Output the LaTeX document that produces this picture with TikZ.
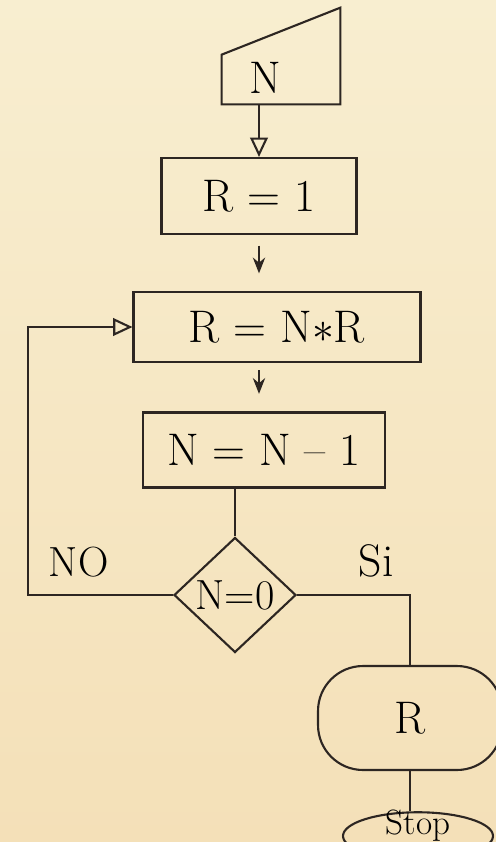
\documentclass[tikz,border=0pt]{standalone}
\usetikzlibrary{shapes.geometric,arrows.meta}

\definecolor{paper}{RGB}{248,238,208}
\definecolor{paperdark}{RGB}{244,224,184}
\definecolor{ink}{RGB}{45,38,34}

\tikzset{
  line/.style={draw=ink, line width=1.2pt},
  block/.style={line, rectangle, inner sep=0pt, font=\fontsize{26}{28}\selectfont},
  decision/.style={line, diamond, inner sep=0pt, font=\fontsize{24}{26}\selectfont},
  output/.style={line, rectangle, rounded corners=0.9cm, inner sep=0pt, font=\fontsize{26}{28}\selectfont},
  terminal/.style={line, ellipse, inner sep=0pt},
  flow/.style={line, -{Stealth[length=9pt,width=7pt]}},
  openflow/.style={line, -{Triangle[open,length=11pt,width=10pt]}},
}

\begin{document}
\begin{tikzpicture}[x=0.02cm, y=-0.02cm]
    % paper
    \useasboundingbox (0,0) rectangle (496,842);
    \shade[top color=paper, bottom color=paperdark] (0,0) rectangle (496,842);
    \clip (0,0) rectangle (496,842);

    % input N (slanted top)
    \node[minimum width=2.36cm, minimum height=1.92cm, inner sep=0pt,
          label={[xshift=-0.32cm, yshift=-0.44cm, font=\fontsize{26}{28}\selectfont]center:N}]
          (in) at (281,56) {};
    \draw[line] (in.south west) -- ([yshift=-0.94cm]in.north west)
        -- (in.north east) -- (in.south east) -- cycle;

    % processing blocks
    \node[block, minimum width=3.9cm, minimum height=1.52cm] (r1) at (259,196) {R = 1};
    \node[block, minimum width=5.74cm, minimum height=1.4cm] (rnr) at (277,327) {R = N$*$R};
    \node[block, minimum width=4.84cm, minimum height=1.5cm] (nn1) at (264,450) {N = N -- 1};

    % test
    \node[decision, minimum width=2.44cm, minimum height=2.3cm] (dec) at (235,595) {N=0};

    % result and end
    \node[output, minimum width=3.68cm, minimum height=2.08cm] (out) at (410,718) {R};
    \node[terminal, minimum width=3cm, minimum height=0.95cm,
          label={[yshift=0.2cm, font=\fontsize{20}{22}\selectfont]center:Stop}]
          (stop) at (418,836) {};

    % connectors
    \draw[openflow] (in.south -| r1) -- (r1.north);
    \draw[flow, shorten <=6pt, shorten >=10pt] (r1.south) -- (r1.south |- rnr.north);
    \draw[flow, shorten <=4pt, shorten >=10pt] (r1.south |- rnr.south) -- (r1.south |- nn1.north);
    \draw[line] (nn1.south -| dec) -- (dec.north);

    % loop back when N is not zero
    \draw[openflow] (dec.west) -- node[above=6pt, pos=0.65, font=\fontsize{24}{26}\selectfont] {NO} ++(-145,0)
        |- (rnr.west);

    % exit
    \draw[line] (dec.east) -| node[above=6pt, pos=0.35, font=\fontsize{26}{28}\selectfont] {Si} (out.north);
    \draw[line] (out.south) -- (out.south |- stop.north);
\end{tikzpicture}
\end{document}
